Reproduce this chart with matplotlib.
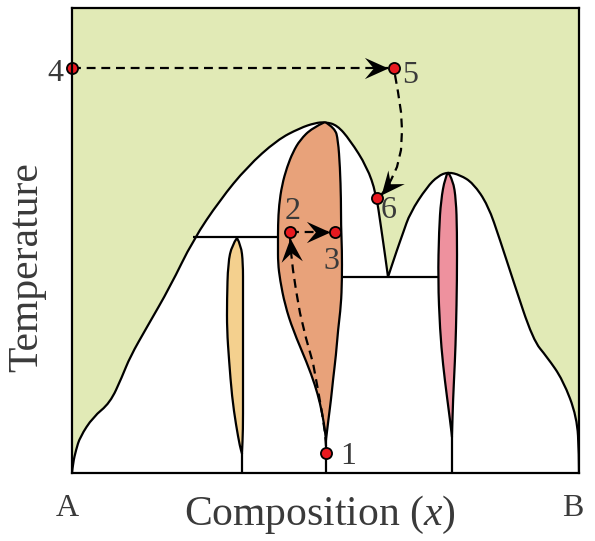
import numpy as np
import matplotlib
matplotlib.use("Agg")
import matplotlib.pyplot as plt
from matplotlib.path import Path
from matplotlib.patches import PathPatch
from matplotlib.markers import MarkerStyle
from matplotlib.transforms import Affine2D

plt.rcParams["font.family"] = ["Liberation Serif", "DejaVu Serif"]
plt.rcParams["mathtext.fontset"] = "custom"
plt.rcParams["mathtext.it"] = "Liberation Serif:italic"
plt.rcParams["mathtext.rm"] = "Liberation Serif"

# composition (% B) and temperature (scaled 0-100)
liquidus_x = [0, 0.2, 0.79, 1.58, 4.14, 7.50, 9.86, 11.44, 14.79, 19.33, 23.87, 29.19,
              34.52, 40.43, 44.97, 47.93, 49.90, 52.27, 54.83, 58.19, 59.96, 60.95,
              61.74, 62.33, 64.10, 65.29, 66.67, 70.02, 72.19, 74.16, 76.53, 79.09,
              82.05, 84.42, 86.98, 90.93, 93.69, 96.84, 99.61, 100, 100]
liquidus_t = [0, 2.15, 4.95, 7.74, 12.04, 15.05, 20.65, 24.95, 31.40, 40.00, 50.11, 58.71,
              65.81, 71.61, 74.19, 75.27, 75.48, 74.84, 71.61, 65.81, 60.22, 52.90,
              46.88, 42.15, 47.96, 51.61, 55.91, 61.51, 63.87, 64.73, 64.09, 62.37,
              57.63, 50.11, 41.51, 28.60, 24.95, 20.00, 12.04, 4.0, 0]

# intermediate phase around x = 50 (orange lens)
beta_x = [49.90, 47.34, 44.97, 43.59, 42.41, 41.42, 40.83, 40.63, 40.63, 40.63, 41.03,
          42.01, 43.59, 46.35, 47.93, 48.92, 49.70, 50.10,
          50.49, 51.08, 51.48, 52.07, 52.47, 53.06, 53.25, 53.25, 53.06, 53.06,
          52.86, 52.47, 51.87, 49.90]
beta_t = [75.48, 74.19, 71.61, 69.03, 65.81, 61.94, 57.63, 53.33, 49.03, 45.16, 41.51,
          36.13, 30.75, 23.66, 18.92, 15.05, 10.75, 7.10,
          10.75, 15.70, 20.00, 25.38, 30.75, 36.13, 41.51, 47.96, 53.33, 58.71,
          65.81, 71.61, 74.19, 75.48]

# narrow phase near x = 33 (yellow)
gamma_x = [32.54, 31.56, 30.77, 30.57, 30.57, 30.97, 31.56, 32.35, 33.14, 33.53,
           33.73, 33.73, 33.73, 33.73, 33.73, 33.33, 32.54]
gamma_t = [50.54, 49.03, 45.16, 37.20, 30.75, 24.30, 16.34, 10.32, 5.59, 4.2,
           9.25, 16.34, 30.75, 39.35, 45.16, 49.03, 50.54]

# narrow phase near x = 74 (pink)
delta_x = [74.16, 73.57, 72.78, 72.39, 72.19, 72.58, 73.18, 73.96, 74.56, 74.95,
           75.15, 75.54, 75.74, 75.94, 75.94, 75.74, 75.15, 74.16]
delta_t = [64.73, 63.44, 58.71, 52.26, 41.51, 30.75, 23.23, 16.34, 11.40, 7.74,
           15.70, 24.30, 30.75, 41.51, 52.26, 58.71, 63.01, 64.73]

# eutectic isotherms
eut1_x, eut1_t = [23.95, 40.63], [50.75, 50.75]
eut2_x, eut2_t = [53.25, 72.19], [42.15, 42.15]

# numbered states
pt_labels = ["1", "2", "3", "4", "5", "6"]
pt_x = [50.10, 43.00, 51.87, 0.0, 63.51, 60.16]
pt_t = [4.30, 51.83, 51.83, 87.10, 87.10, 59.14]

# cooling / heating paths
path12_x = [50.10, 49.90, 49.31, 48.52, 47.53, 46.15, 44.97, 44.18, 43.59, 43.20, 43.00]
path12_t = [5.81, 8.60, 12.90, 17.85, 23.66, 29.03, 34.41, 39.35, 43.66, 47.53, 50.54]
path23_x, path23_t = [43.00, 50.89], [51.83, 51.83]
path45_x, path45_t = [0.0, 62.33], [87.10, 87.10]
path56_x = [63.71, 64.30, 64.89, 65.09, 64.89, 64.10, 62.92, 61.93, 60.95]
path56_t = [85.59, 81.94, 77.63, 73.76, 69.46, 65.81, 63.01, 61.07, 59.78]

green = "#e1eab6"
orange = "#e8a27a"
yellow = "#f4d08e"
pink = "#ee919e"
red = "#e8191f"
txt = "#3a3a3a"
lw = 1.6


def smooth_path(xs, ys, sharp=()):
    """Quadratic spline through the midpoints; indices in `sharp` stay as corners."""
    pts = []
    for i, p in enumerate(zip(xs, ys)):
        pts.append(p)
        if i in sharp:
            pts.append(p)
    pts = np.asarray(pts, float)
    n = len(pts)
    verts, codes = [pts[0]], [Path.MOVETO]
    for i in range(1, n - 1):
        end = pts[-1] if i == n - 2 else (pts[i] + pts[i + 1]) / 2
        verts += [pts[i], end]
        codes += [Path.CURVE3, Path.CURVE3]
    return Path(verts, codes)


fig = plt.figure(figsize=(5.95, 5.41), dpi=100)
ax = fig.add_axes([72 / 595, 68 / 541, 507 / 595, 465 / 541])
ax.set_xlim(0, 100)
ax.set_ylim(0, 100)
ax.set_facecolor(green)
ax.set_xticks([])
ax.set_yticks([])
for s in ax.spines.values():
    s.set_linewidth(lw)
    s.set_zorder(10)

# liquid above the liquidus, solid / two-phase regions below
regions = [
    (liquidus_x, liquidus_t, "white", (23,)),
    (beta_x, beta_t, orange, (17,)),
    (gamma_x, gamma_t, yellow, (9,)),
    (delta_x, delta_t, pink, (9,)),
]
for z, (xs, ts, fc, sharp) in enumerate(regions):
    ax.add_patch(PathPatch(smooth_path(xs, ts, sharp), fc=fc, ec="black", lw=lw,
                           joinstyle="round", zorder=1 + z))

line_kw = dict(color="black", lw=lw, solid_capstyle="butt", zorder=6)
ax.plot(eut1_x, eut1_t, **line_kw)
ax.plot(eut2_x, eut2_t, **line_kw)
# line compounds down to room temperature
ax.plot([beta_x[17], beta_x[17]], [beta_t[17], 0], **line_kw)
ax.plot([gamma_x[9], gamma_x[9]], [gamma_t[9], 0], **line_kw)
ax.plot([delta_x[9], delta_x[9]], [delta_t[9], 0], **line_kw)

# stealth arrow head as a marker, tip at origin
head = Path([(0, 0), (-1, 0.45), (-0.62, 0), (-1, -0.45), (0, 0)],
            [Path.MOVETO, Path.LINETO, Path.LINETO, Path.LINETO, Path.CLOSEPOLY])


def dashed_arrow(xs, ts):
    ax.plot(xs, ts, color="black", lw=1.6, ls=(0, (4, 2.6)), zorder=7)
    p = ax.transData.transform(np.column_stack([xs[-2:], ts[-2:]]))
    ang = np.degrees(np.arctan2(p[1, 1] - p[0, 1], p[1, 0] - p[0, 0]))
    m = MarkerStyle(head, transform=Affine2D().rotate_deg(ang))
    ax.plot(xs[-1], ts[-1], marker=m, ms=34, color="black", mew=0, ls="none",
            zorder=8, clip_on=False)


dashed_arrow(path12_x, path12_t)
dashed_arrow(path23_x, path23_t)
dashed_arrow(path45_x, path45_t)
dashed_arrow(path56_x, path56_t)

ax.plot(pt_x, pt_t, "o", ms=8, mfc=red, mec="black", mew=1.3, zorder=9, clip_on=False)

offsets = [(22, -3), (3, 20), (-4, -30), (-17, -6), (16, -8), (12, -13)]
for lab, x, t, (dx, dy) in zip(pt_labels, pt_x, pt_t, offsets):
    ax.annotate(lab, (x, t), xytext=(dx, dy), textcoords="offset pixels",
                ha="center", va="center", fontsize=23, color=txt, zorder=11)

fig.text(67 / 595, 1 - 508 / 541, "A", ha="center", va="center", fontsize=23, color=txt)
fig.text(573 / 595, 1 - 508 / 541, "B", ha="center", va="center", fontsize=23, color=txt)
fig.text(320 / 595, 1 - 515 / 541, "Composition ($x$)", ha="center", va="center",
         fontsize=30, color=txt)
fig.text(27 / 595, 1 - 267 / 541, "Temperature", ha="center", va="center",
         rotation=90, fontsize=30, color=txt)

fig.savefig("out.png", dpi=100)
